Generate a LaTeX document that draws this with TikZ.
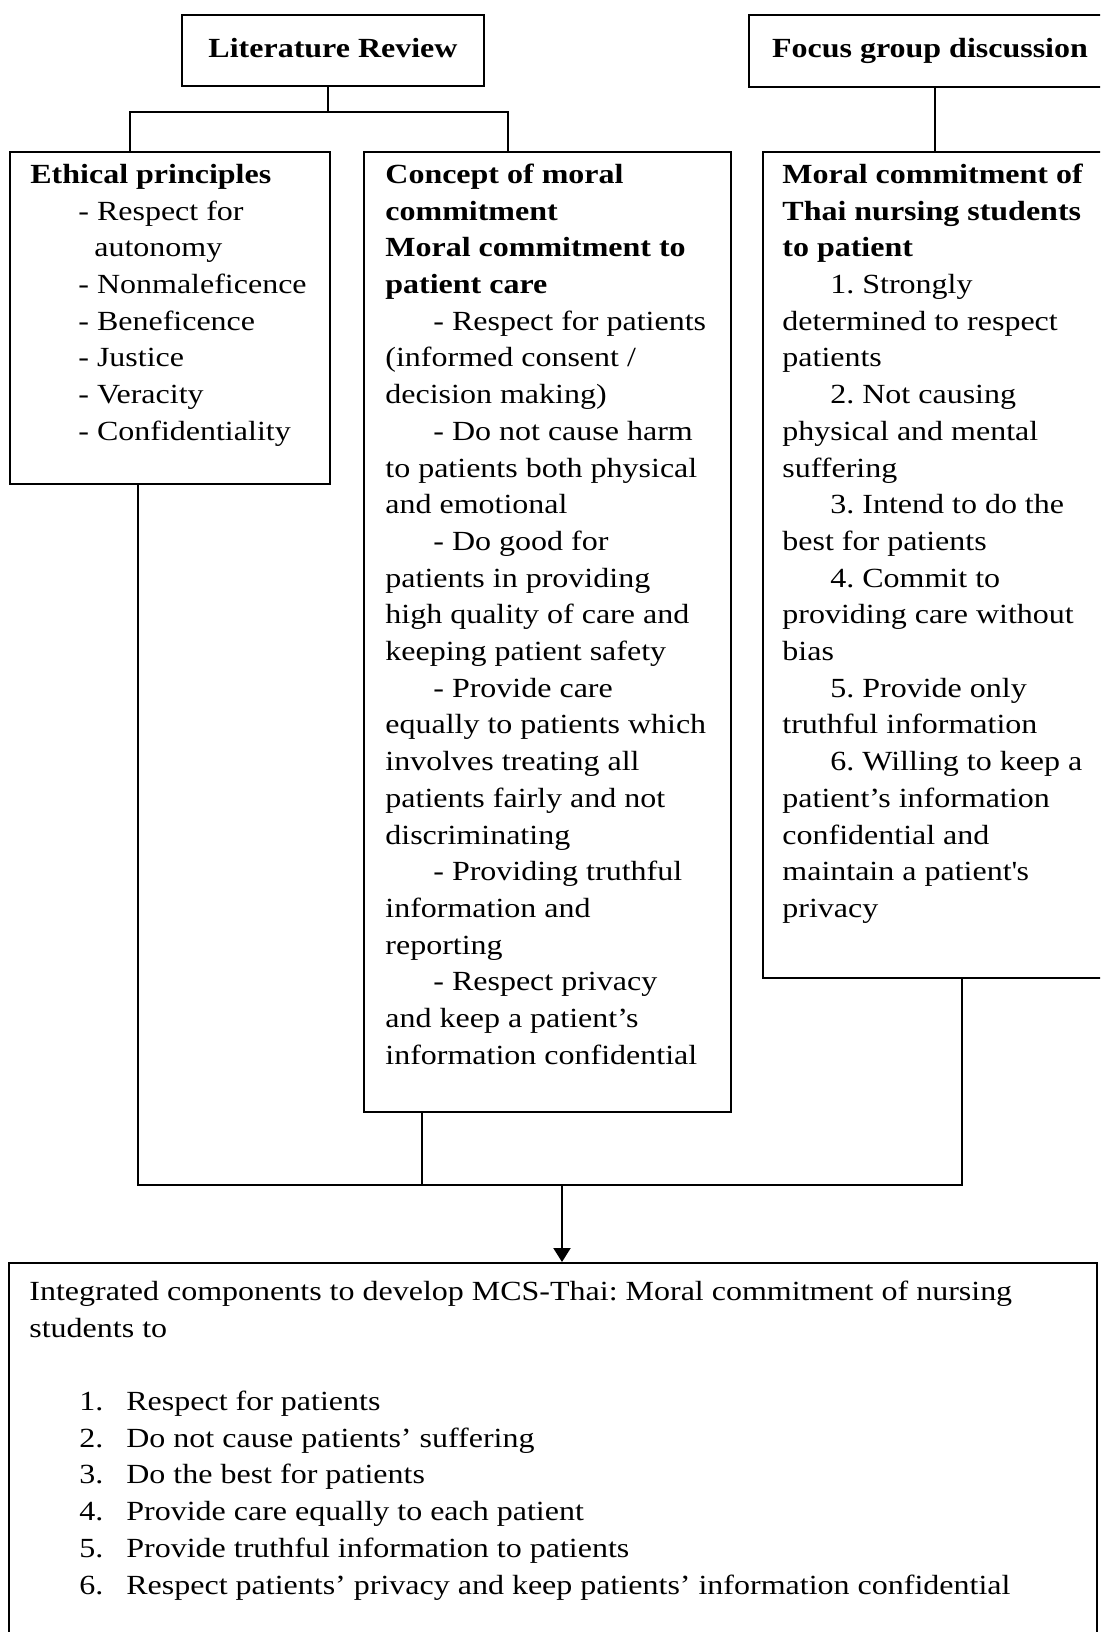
\documentclass[tikz,border=0pt]{standalone}
\usepackage{fontspec}
\setmainfont{Liberation Serif}[FakeStretch=1.155]
\usetikzlibrary{arrows.meta,positioning}
\frenchspacing
\newcommand\bodyfont{\fontsize{13.85pt}{18.35pt}\selectfont}
\newcommand\hdstrut{\rule{0pt}{12pt}}
\newcommand\indt{\hspace*{24pt}}
\newcommand\numitem[1]{\hspace*{25pt}\makebox[23.5pt][l]{#1}}
\tikzset{
  box/.style ={draw=black,line width=1.1pt,inner sep=0pt,anchor=north west},
  head/.style={draw=black,line width=1.1pt,font=\bodyfont\bfseries,
               text height=10pt,text depth=3pt},
  txt/.style ={anchor=north west,inner sep=0pt,align=left,font=\bodyfont},
  ln/.style  ={line width=.85pt},
  arr/.style ={-{Triangle[length=7pt,width=8.5pt]},line width=1pt},
}
\begin{document}
\begin{tikzpicture}[x=.5pt,y=-.5pt]
  \useasboundingbox (0,0) rectangle (1100,1632);
  \clip (0,0) rectangle (1100,1632);

  % --- sources ---
  \node[head,minimum width=151pt,minimum height=35.5pt] (lit) at (333,50.5) {Literature Review};
  \node[head,minimum width=181pt,minimum height=36pt] (focus) at (930,51) {Focus group discussion};

  % --- content boxes ---
  \node[box,minimum width=160pt,minimum height=166pt] (ethic) at (9,151) {};
  \node[box,minimum width=183.5pt,minimum height=480pt] (concept) at (363,151) {};
  \node[box,minimum width=176.5pt,minimum height=413pt] (moral) at (762,151) {};
  \node[box,minimum width=544pt,minimum height=190pt] (result) at (8,1262) {};

  \node[txt] (ethictxt) at ([xshift=10.5pt,yshift=-4pt]ethic.north west)
    {\hdstrut\textbf{Ethical principles}\\
     \indt- Respect for\\
     \hspace*{32pt}autonomy\\
     \indt- Nonmaleficence\\
     \indt- Beneficence\\
     \indt- Justice\\
     \indt- Veracity\\
     \indt- Confidentiality};

  \node[txt] (concepttxt) at ([xshift=11pt,yshift=-4pt]concept.north west)
    {\hdstrut\textbf{Concept of moral}\\
     \textbf{commitment}\\
     \textbf{Moral commitment to}\\
     \textbf{patient care}\\
     \indt- Respect for patients\\
     (informed consent /\\
     decision making)\\
     \indt- Do not cause harm\\
     to patients both physical\\
     and emotional\\
     \indt- Do good for\\
     patients in providing\\
     high quality of care and\\
     keeping patient safety\\
     \indt- Provide care\\
     equally to patients which\\
     involves treating all\\
     patients fairly and not\\
     discriminating\\
     \indt- Providing truthful\\
     information and\\
     reporting\\
     \indt- Respect privacy\\
     and keep a patient’s\\
     information confidential};

  \node[txt] (moraltxt) at ([xshift=10pt,yshift=-4pt]moral.north west)
    {\hdstrut\textbf{Moral commitment of}\\
     \textbf{Thai nursing students}\\
     \textbf{to patient}\\
     \indt 1. Strongly\\
     determined to respect\\
     patients\\
     \indt 2. Not causing\\
     physical and mental\\
     suffering\\
     \indt 3. Intend to do the\\
     best for patients\\
     \indt 4. Commit to\\
     providing care without\\
     bias\\
     \indt 5. Provide only\\
     truthful information\\
     \indt 6. Willing to keep a\\
     patient’s information\\
     confidential and\\
     maintain a patient\textquotesingle s\\
     privacy};

  \node[txt] (resulttxt) at ([xshift=10.5pt,yshift=-7pt]result.north west)
    {\hdstrut Integrated components to develop MCS-Thai: Moral commitment of nursing\\
     students to\\
     \mbox{}\\
     \numitem{1.}Respect for patients\\
     \numitem{2.}Do not cause patients’ suffering\\
     \numitem{3.}Do the best for patients\\
     \numitem{4.}Provide care equally to each patient\\
     \numitem{5.}Provide truthful information to patients\\
     \numitem{6.}Respect patients’ privacy and keep patients’ information confidential};

  % --- connectors ---
  \coordinate (litsplit) at (328,112);
  \coordinate (ethjoin) at (130,112);
  \coordinate (conjoin) at (508,112);
  \coordinate (focjoin) at (935,112);
  \coordinate (ethout) at (138,1185);
  \coordinate (conout) at (422,1185);
  \coordinate (morout) at (962,1185);
  \coordinate (merge) at (562,1185);

  \draw[ln] (lit.south -| litsplit) -- (litsplit);
  \draw[ln] (ethic.north -| ethjoin) -- (ethjoin) -- (conjoin) -- (concept.north -| conjoin);
  \draw[ln] (focus.south -| focjoin) -- (moral.north -| focjoin);
  \draw[ln] (ethic.south -| ethout) -- (ethout) -- (morout) -- (moral.south -| morout);
  \draw[ln] (concept.south -| conout) -- (conout);
  \draw[arr] (merge) -- (result.north -| merge);
\end{tikzpicture}
\end{document}
